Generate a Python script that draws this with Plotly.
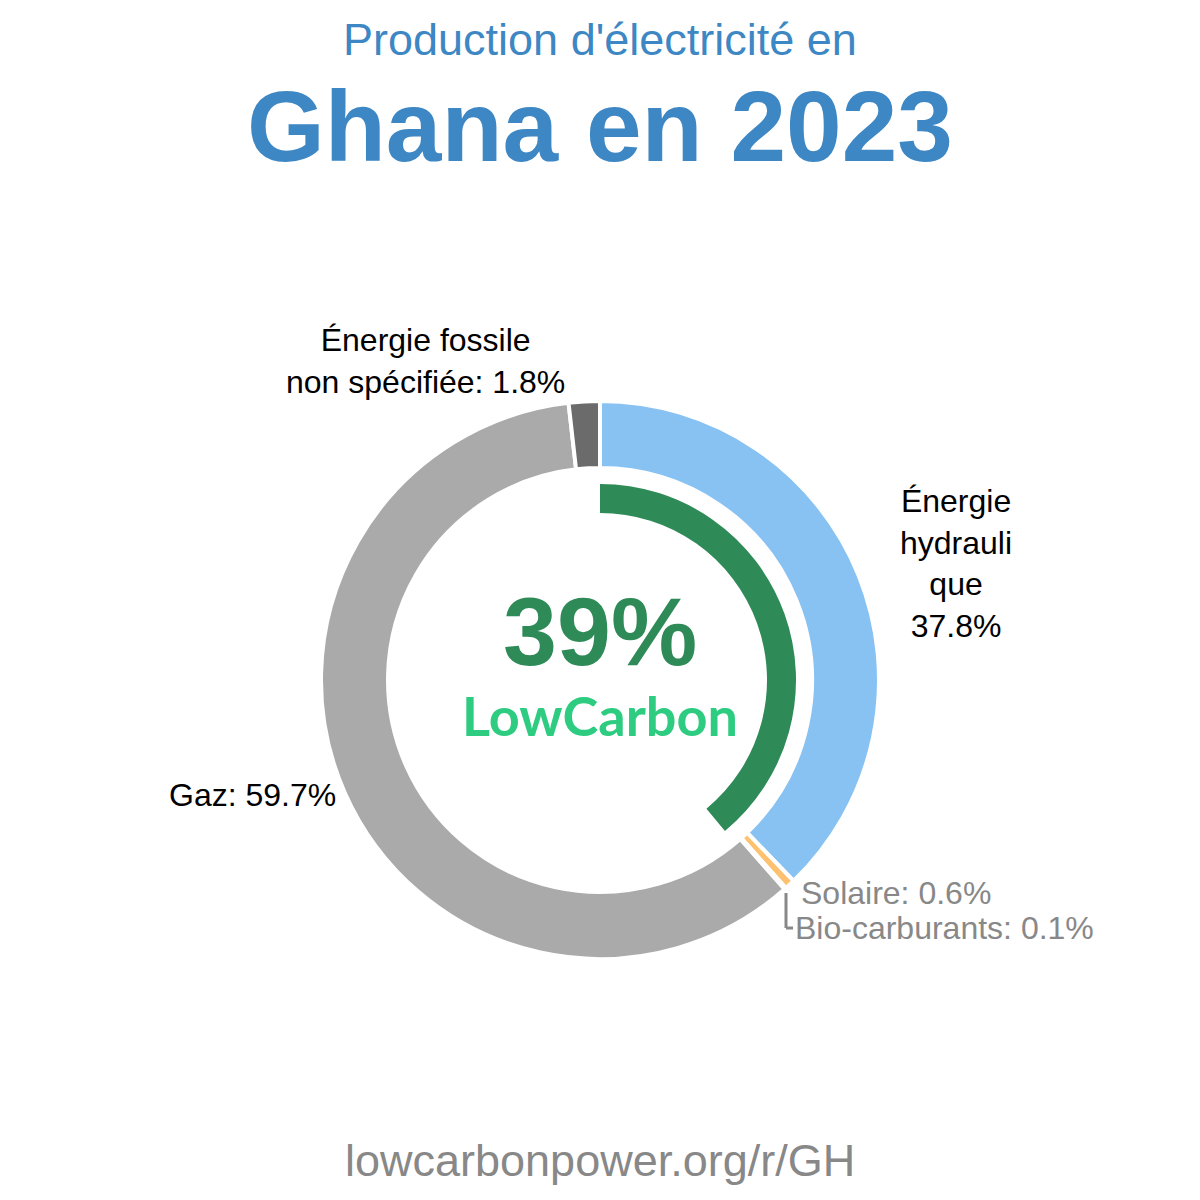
import plotly.graph_objects as go

labels = ["Énergie hydraulique", "Solaire", "Bio-carburants", "Gaz", "Énergie fossile non spécifiée"]
values = [37.8, 0.6, 0.1, 59.7, 1.8]
colors = ["#88c2f2", "#fdc170", "#7fbf7f", "#aaaaaa", "#6b6b6b"]

lowcarbon_share = 39
title_line1 = "Production d'électricité en"
title_line2 = "Ghana en 2023"
footer = "lowcarbonpower.org/r/GH"

W = H = 1200
cx, cy = 600, 680
R_out, R_in = 279, 212
G_out, G_in = 196, 167


def dom(r):
    return dict(x=[(cx - r) / W, (cx + r) / W], y=[(H - cy - r) / H, (H - cy + r) / H])


def px(x, y):
    return x / W, (H - y) / H


fig = go.Figure()
fig.add_trace(go.Pie(
    labels=labels, values=values, sort=False, direction="clockwise", rotation=0,
    hole=R_in / R_out, domain=dom(R_out),
    marker=dict(colors=colors, line=dict(color="white", width=4)),
    textinfo="none", hoverinfo="label+percent", showlegend=False,
))
fig.add_trace(go.Pie(
    labels=["Bas carbone", "Autre"], values=[lowcarbon_share, 100 - lowcarbon_share],
    sort=False, direction="clockwise", rotation=0,
    hole=G_in / G_out, domain=dom(G_out),
    marker=dict(colors=["#2e8b57", "rgba(0,0,0,0)"], line=dict(width=0)),
    textinfo="none", hoverinfo="skip", showlegend=False,
))

FONT = "Liberation Sans, Arial, sans-serif"
ann = []


def add(text, x, y, size, color, xanchor="center", bold=False, family=FONT):
    xp, yp = px(x, y)
    ann.append(dict(text=f"<b>{text}</b>" if bold else text, x=xp, y=yp, xref="paper", yref="paper",
                    xanchor=xanchor, yanchor="middle", showarrow=False,
                    font=dict(size=size, color=color, family=family)))


add(title_line1, 600, 40, 45, "#3d87c4")
add(title_line2, 600, 126, 100, "#3d87c4", bold=True)
add(f"{lowcarbon_share}%", 600, 632, 97, "#2e8b57", bold=True)
add("LowCarbon", 600, 715, 54, "#2ecc80", bold=True, family="Lato, sans-serif")
add("Énergie fossile<br>non spécifiée: 1.8%", 425, 361, 32, "black")
add("Énergie<br>hydrauli<br>que<br>37.8%", 956, 563, 32, "black")
add("Gaz: 59.7%", 252, 795, 32, "black")
add("Solaire: 0.6%", 799, 893, 32, "#888888", xanchor="left")
add("Bio-carburants: 0.1%", 793, 928, 32, "#888888", xanchor="left")
add(footer, 600, 1160, 45, "#888888")

x0, y0 = px(786, 893)
x1, y1 = px(786, 928)
x2, _ = px(793, 928)
fig.add_shape(type="line", xref="paper", yref="paper", x0=x0, y0=y0, x1=x1, y1=y1,
              line=dict(color="#888888", width=3))
fig.add_shape(type="line", xref="paper", yref="paper", x0=x1, y0=y1, x1=x2, y1=y1,
              line=dict(color="#888888", width=3))

fig.update_layout(
    width=W, height=H, margin=dict(l=0, r=0, t=0, b=0),
    paper_bgcolor="white", plot_bgcolor="white",
    annotations=ann, showlegend=False,
)
fig.write_html("out.html")
